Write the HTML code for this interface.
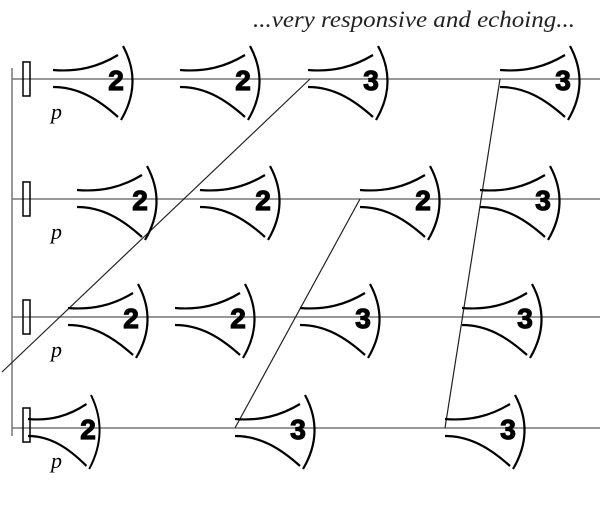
<!DOCTYPE html>
<html><head><style>body{margin:0;background:#fff}</style></head><body>
<svg width="600" height="500" xmlns="http://www.w3.org/2000/svg">
<defs>
<g id="h" fill="none" stroke="#000">
<path d="M0,-9 C25,-7 45,-12 65,-24" stroke-width="2.2"/>
<path d="M0,8 C25,8 45,20 65,38" stroke-width="2.2"/>
<path d="M70,-33 Q90,4 68,41" stroke-width="2.2"/>
</g>
</defs>
<text x="253" y="27" textLength="322" lengthAdjust="spacingAndGlyphs" style="font-family:'Liberation Serif',serif;font-style:italic;font-size:23px" fill="#222">...very responsive and echoing...</text>
<g stroke="#777" stroke-width="1.5">
<line x1="12" y1="79" x2="600" y2="79"/>
<line x1="12" y1="199" x2="600" y2="199"/>
<line x1="12" y1="317" x2="600" y2="317"/>
<line x1="12" y1="428" x2="600" y2="428"/>
<line x1="12" y1="68" x2="12" y2="436"/>
</g>
<g stroke="#000" stroke-width="1.5" fill="none">
<rect x="23" y="62" width="7" height="34"/>
<rect x="23" y="182" width="7" height="34"/>
<rect x="23" y="300" width="7" height="34"/>
<rect x="23" y="408" width="7" height="34"/>
</g>
<g stroke="#222" stroke-width="1.2">
<line x1="2" y1="372" x2="310" y2="79"/>
<line x1="235" y1="428" x2="360" y2="199"/>
<line x1="445" y1="428" x2="500" y2="79"/>
</g>
<g style="font-family:'Liberation Sans',sans-serif;font-weight:bold;font-size:28px" text-anchor="middle" stroke="#000" stroke-width="1.2">
<use href="#h" x="53" y="79"/><text x="116" y="90">2</text>
<use href="#h" x="180" y="79"/><text x="243" y="90">2</text>
<use href="#h" x="308" y="79"/><text x="371" y="90">3</text>
<use href="#h" x="500" y="79"/><text x="563" y="90">3</text>
<use href="#h" x="77" y="199"/><text x="140" y="210">2</text>
<use href="#h" x="200" y="199"/><text x="263" y="210">2</text>
<use href="#h" x="360" y="199"/><text x="423" y="210">2</text>
<use href="#h" x="480" y="199"/><text x="543" y="210">3</text>
<use href="#h" x="68" y="317"/><text x="131" y="328">2</text>
<use href="#h" x="175" y="317"/><text x="238" y="328">2</text>
<use href="#h" x="300" y="317"/><text x="363" y="328">3</text>
<use href="#h" x="462" y="317"/><text x="525" y="328">3</text>
<g transform="translate(28,428) scale(0.9,1)"><use href="#h"/></g><text x="88" y="439">2</text>
<use href="#h" x="235" y="428"/><text x="298" y="439">3</text>
<use href="#h" x="445" y="428"/><text x="508" y="439">3</text>
</g>
<g style="font-family:'Liberation Serif',serif;font-style:italic;font-size:22px">
<text x="51" y="119">p</text>
<text x="51" y="239">p</text>
<text x="51" y="357">p</text>
<text x="51" y="468">p</text>
</g>
</svg>
</body></html>
